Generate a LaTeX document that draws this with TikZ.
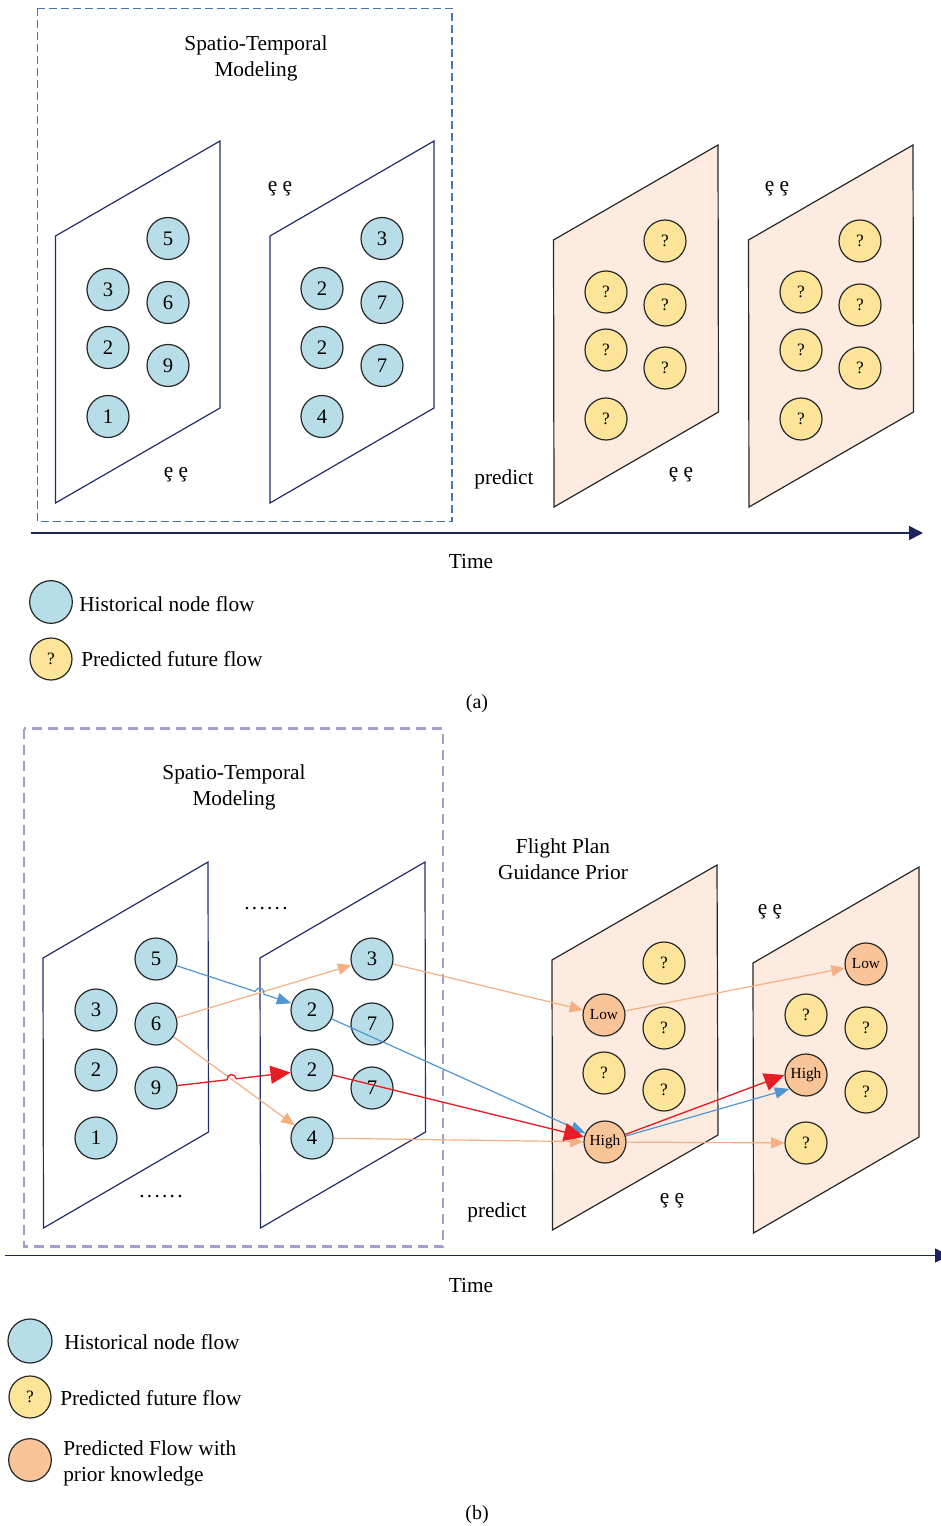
\documentclass[tikz,border=0pt]{standalone}
\usepackage{fontspec}
\setmainfont{Liberation Serif}
\usetikzlibrary{arrows.meta,calc,intersections}

\definecolor{histblue}{RGB}{183,222,232}
\definecolor{predyellow}{RGB}{252,229,153}
\definecolor{priororange}{RGB}{248,196,152}
\definecolor{planefill}{RGB}{252,235,222}
\definecolor{navy}{RGB}{35,45,110}
\definecolor{axisnavy}{RGB}{28,36,92}
\definecolor{nodeedge}{RGB}{40,40,40}
\definecolor{boxblue}{RGB}{70,120,175}
\definecolor{boxlav}{RGB}{165,158,200}
\definecolor{arrblue}{RGB}{80,150,210}
\definecolor{arrorange}{RGB}{244,176,130}
\definecolor{arrred}{RGB}{232,28,36}

\newcommand\dotrun{.\kern1.7pt.\kern1.7pt.\kern1.7pt.\kern1.7pt.\kern1.7pt.}

\tikzset{
  flow/.style={circle, draw=nodeedge, line width=0.9pt, minimum size=31.5pt,
               inner sep=0pt, font=\fontsize{15.5}{15.5}\selectfont},
  hist/.style={flow, fill=histblue},
  pred/.style={flow, fill=predyellow, font=\fontsize{13}{13}\selectfont},
  prior/.style={flow, fill=priororange, font=\fontsize{11.5}{11.5}\selectfont},
  histplane/.style={draw=navy, line width=0.9pt, line join=miter},
  predplane/.style={draw=nodeedge, fill=planefill, line width=0.9pt},
  lbl/.style={font=\fontsize{16}{19.5}\selectfont, align=center, inner sep=0pt},
  legtext/.style={font=\fontsize{16}{19.5}\selectfont, align=left, anchor=west, inner sep=0pt},
  boxa/.style={draw=boxblue, line width=0.8pt, dash pattern=on 6pt off 3pt},
  boxb/.style={draw=boxlav, line width=1.8pt, dash pattern=on 7.5pt off 4.5pt},
  timeaxis/.style={draw=axisnavy, line width=1.2pt, -{Triangle[length=10.5pt,width=10.5pt]}},
  orangearr/.style={draw=arrorange, line width=0.9pt, -{Triangle[length=10pt,width=8.5pt]}},
  bluearr/.style={draw=arrblue, line width=0.9pt, -{Triangle[length=11pt,width=8.5pt]}},
  redarr/.style={draw=arrred, line width=1pt, -{Triangle[length=15pt,width=13.5pt]}},
}

\begin{document}
\begin{tikzpicture}[x=0.75pt,y=-0.75pt]
\useasboundingbox (0,0) rectangle (941,1526);
\fill[white] (0,0) rectangle (941,1526);

% ---------------- (a) ----------------
\draw[boxa] (37.5,8.5) rectangle (452,521.5);
\node[lbl] (sta) at (256,58.5) {Spatio-Temporal\\Modeling};

% historical frames
\draw[histplane] (55.5,236) -- (220,141) -- (220,408) -- (55.5,503) -- cycle;
\draw[histplane] (270,236) -- (434,141) -- (434,408) -- (270,503) -- cycle;

\node[hist] (a1) at (168,238.5) {5};
\node[hist] (a2) at (108,289.5) {3};
\node[hist] (a3) at (168,302.5) {6};
\node[hist] (a4) at (108,347.5) {2};
\node[hist] (a5) at (168,365.5) {9};
\node[hist] (a6) at (108,416.5) {1};

\node[hist] (a7)  at (382,238.5) {3};
\node[hist] (a8)  at (322,288.5) {2};
\node[hist] (a9)  at (382,302.5) {7};
\node[hist] (a10) at (322,347.5) {2};
\node[hist] (a11) at (382,365.5) {7};
\node[hist] (a12) at (322,416.5) {4};

% predicted frames
\draw[predplane] (553.5,240) -- (718,145) -- (718.5,412) -- (554,507) -- cycle;
\draw[predplane] (748.5,240) -- (913,145) -- (913.5,412) -- (749,507) -- cycle;

\node[pred] (p1) at (665,241) {?};
\node[pred] (p2) at (606,292) {?};
\node[pred] (p3) at (665,305) {?};
\node[pred] (p4) at (606,350) {?};
\node[pred] (p5) at (665,368) {?};
\node[pred] (p6) at (606,419) {?};

\node[pred] (r1) at (860,241) {?};
\node[pred] (r2) at (801,292) {?};
\node[pred] (r3) at (860,305) {?};
\node[pred] (r4) at (801,350) {?};
\node[pred] (r5) at (860,368) {?};
\node[pred] (r6) at (801,419) {?};

\node[lbl] (ea1) at (280,189) {ȩ ȩ};
\node[lbl] (ea2) at (176,475) {ȩ ȩ};
\node[lbl] (ea3) at (777,189) {ȩ ȩ};
\node[lbl] (ea4) at (681,475) {ȩ ȩ};
\node[lbl] (preda) at (504,479) {predict};

\coordinate (ta0) at (31,533);
\coordinate (ta1) at (923,533);
\draw[timeaxis] (ta0) -- (ta1);
\node[lbl] (timea) at (471,562) {Time};

\node[hist, minimum size=32pt] (lga1) at (51,602) {};
\node[legtext] (lgta1) at (79,604) {Historical node flow};
\node[pred] (lga2) at (51,659) {?};
\node[legtext] (lgta2) at (81,659) {Predicted future flow};

\node[lbl, font=\fontsize{15}{15}\selectfont] (capa) at (477,704) {(a)};

% ---------------- (b) ----------------
\draw[boxb] (24,728.5) rectangle (443,1246.5);
\node[lbl] (stb) at (234,787.5) {Spatio-Temporal\\Modeling};
\node[lbl] (fpg) at (563,859) {Flight Plan\\Guidance Prior};

\draw[histplane] (43,958) -- (208,862) -- (208.5,1132) -- (43.5,1228) -- cycle;
\draw[histplane] (260,958) -- (425,862) -- (425.5,1132) -- (260.5,1228) -- cycle;

\node[hist] (b5)  at (156,959)  {5};
\node[hist] (b3)  at (96,1010)  {3};
\node[hist] (b6)  at (156,1024) {6};
\node[hist] (b2)  at (96,1070)  {2};
\node[hist] (b9)  at (156,1088) {9};
\node[hist] (b1)  at (96,1138)  {1};

\node[hist] (c3)  at (372,959)  {3};
\node[hist] (c2u) at (312,1010) {2};
\node[hist] (c7u) at (372,1024) {7};
\node[hist] (c2l) at (312,1070) {2};
\node[hist] (c7l) at (372,1088) {7};
\node[hist] (c4)  at (312,1138) {4};

\draw[predplane] (552,960) -- (717,865) -- (718,1135) -- (552.5,1230) -- cycle;
\draw[predplane] (753,963) -- (919,867) -- (919,1137) -- (753.5,1233) -- cycle;

\node[pred]  (d1)    at (664,963)  {?};
\node[prior] (dlow)  at (604,1015) {Low};
\node[pred]  (d3)    at (664,1028) {?};
\node[pred]  (d4)    at (604,1073) {?};
\node[pred]  (d5)    at (664,1090) {?};
\node[prior] (dhigh) at (605,1142) {High};

\node[prior] (elow)  at (866,964)  {Low};
\node[pred]  (e2)    at (806,1015) {?};
\node[pred]  (e3)    at (866,1028) {?};
\node[prior] (ehigh) at (806,1075) {High};
\node[pred]  (e5)    at (866,1092) {?};
\node[pred]  (e6)    at (806,1143) {?};

\node[lbl] (dots1) at (266,909) {\dotrun};
\node[lbl] (dots2) at (161,1197) {\dotrun};
\node[lbl] (eb1) at (770,912) {ȩ ȩ};
\node[lbl] (eb2) at (672,1201) {ȩ ȩ};
\node[lbl] (predb) at (497,1212) {predict};

% flow links between frames
\path[name path=o63] (b6) -- (c3);
\path[name path=b52] (b5) -- (c2u);
\path[name intersections={of=o63 and b52, by=hopA}];
\path[name path=o64] (b6) -- (c4);
\path[name path=r92] (b9) -- (c2l);
\path[name intersections={of=o64 and r92, by=hopB}];
\coordinate (hopA1) at ($(hopA)!3.5pt!(b5)$);
\coordinate (hopA2) at ($(hopA)!3.5pt!(c2u)$);
\coordinate (hopB1) at ($(hopB)!3.5pt!(b9)$);
\coordinate (hopB2) at ($(hopB)!3.5pt!(c2l)$);

\draw[orangearr] (b6) -- (c3);
\draw[orangearr] (b6) -- (c4);
\draw[bluearr] (b5) -- (hopA1)
  .. controls ($(hopA1)!0.667!90:(hopA2)$) and ($(hopA2)!0.667!-90:(hopA1)$) .. (hopA2)
  -- (c2u);
\draw[redarr] (b9) -- (hopB1)
  .. controls ($(hopB1)!0.667!90:(hopB2)$) and ($(hopB2)!0.667!-90:(hopB1)$) .. (hopB2)
  -- (c2l);

\draw[orangearr] (c3) -- (dlow);
\draw[bluearr] (c2u) -- (dhigh);
\draw[orangearr] (c4) -- (dhigh);
\draw[redarr] (c2l) -- (dhigh);

\draw[orangearr] (dlow) -- (elow);
\draw[orangearr] (dhigh) -- (e6);
\draw[redarr] (dhigh) -- (ehigh.west);
\draw[bluearr] (dhigh) -- (ehigh.220);

\coordinate (tb0) at (5,1255.5);
\coordinate (tb1) at (949,1255.5);
\draw[timeaxis] (tb0) -- (tb1);
\node[lbl] (timeb) at (471,1286) {Time};

\node[hist, minimum size=33pt] (lgb1) at (30,1341) {};
\node[legtext] (lgtb1) at (64,1342) {Historical node flow};
\node[pred] (lgb2) at (30,1397) {?};
\node[legtext] (lgtb2) at (60,1398) {Predicted future flow};
\node[prior, minimum size=32pt] (lgb3) at (30,1460) {};
\node[legtext] (lgtb3) at (63,1463) {Predicted Flow with\\prior knowledge};

\node[lbl, font=\fontsize{15}{15}\selectfont] (capb) at (477,1515) {(b)};
\end{tikzpicture}
\end{document}
